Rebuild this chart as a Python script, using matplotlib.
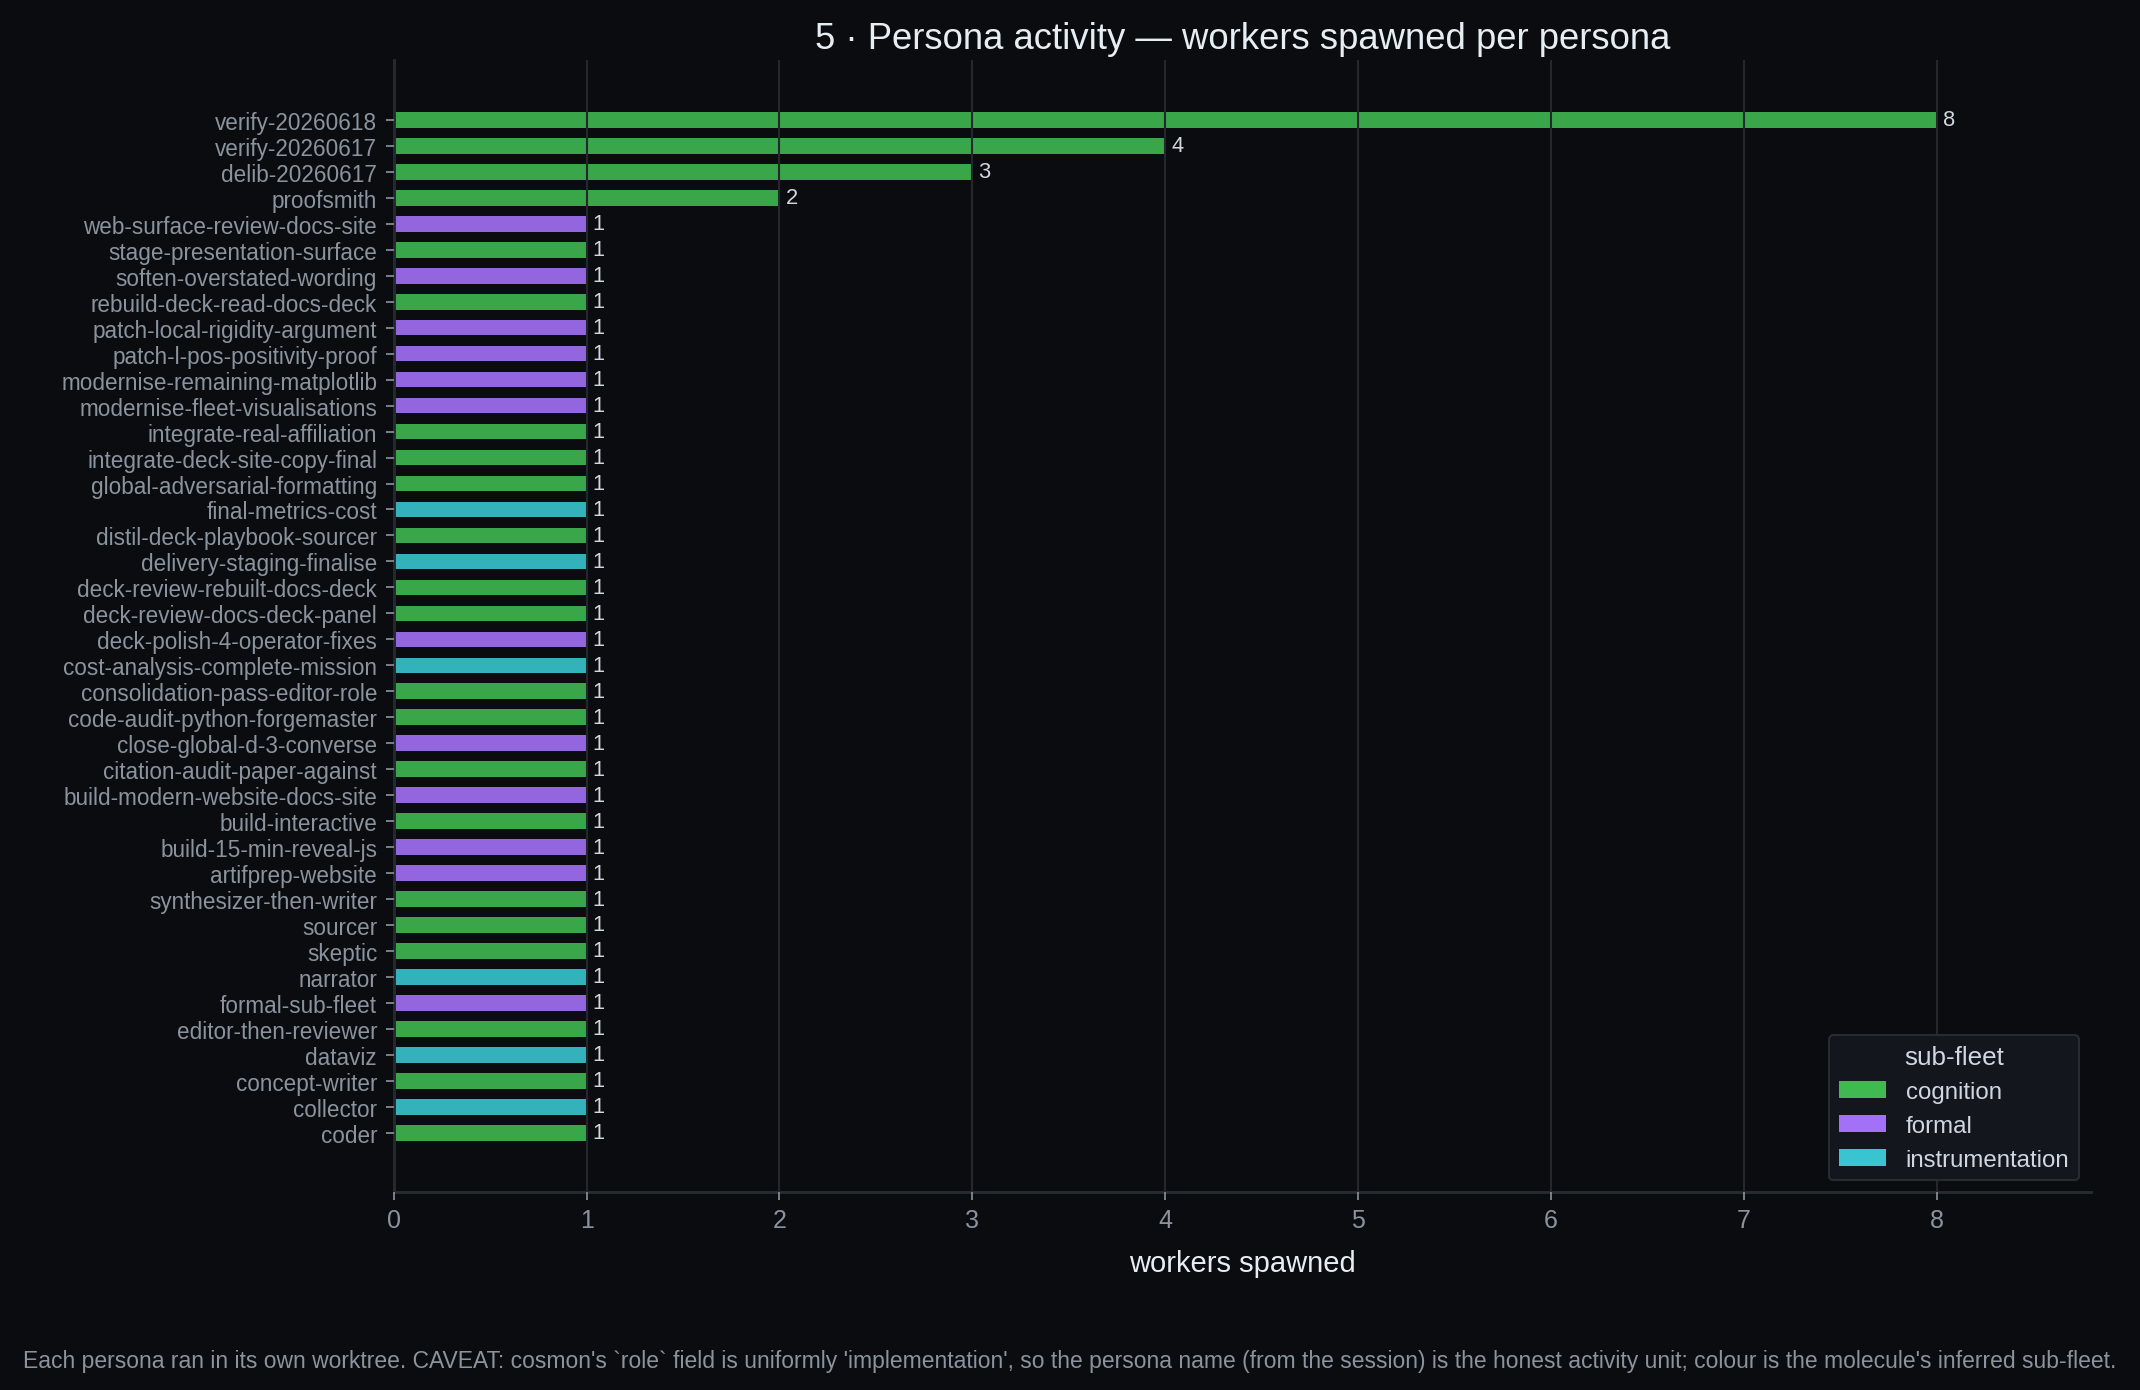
import matplotlib.pyplot as plt
from matplotlib.patches import Patch

plt.rcParams['font.family'] = ['Liberation Sans', 'DejaVu Sans']

# Persona names, top to bottom
personas = [
    "verify-20260618", "verify-20260617", "delib-20260617", "proofsmith",
    "web-surface-review-docs-site", "stage-presentation-surface",
    "soften-overstated-wording", "rebuild-deck-read-docs-deck",
    "patch-local-rigidity-argument", "patch-l-pos-positivity-proof",
    "modernise-remaining-matplotlib", "modernise-fleet-visualisations",
    "integrate-real-affiliation", "integrate-deck-site-copy-final",
    "global-adversarial-formatting", "final-metrics-cost",
    "distil-deck-playbook-sourcer", "delivery-staging-finalise",
    "deck-review-rebuilt-docs-deck", "deck-review-docs-deck-panel",
    "deck-polish-4-operator-fixes", "cost-analysis-complete-mission",
    "consolidation-pass-editor-role", "code-audit-python-forgemaster",
    "close-global-d-3-converse", "citation-audit-paper-against",
    "build-modern-website-docs-site", "build-interactive",
    "build-15-min-reveal-js", "artifprep-website", "synthesizer-then-writer",
    "sourcer", "skeptic", "narrator", "formal-sub-fleet",
    "editor-then-reviewer", "dataviz", "concept-writer", "collector", "coder",
]
workers = [8, 4, 3, 2] + [1] * 36
fleets = [
    "cognition", "cognition", "cognition", "cognition",
    "formal", "cognition", "formal", "cognition",
    "formal", "formal", "formal", "formal",
    "cognition", "cognition", "cognition", "instrumentation",
    "cognition", "instrumentation", "cognition", "cognition",
    "formal", "instrumentation", "cognition", "cognition",
    "formal", "cognition", "formal", "cognition",
    "formal", "formal", "cognition", "cognition",
    "cognition", "instrumentation", "formal", "cognition",
    "instrumentation", "cognition", "instrumentation", "cognition",
]
fleet_colours = {
    "cognition": "#3fb950",
    "formal": "#a371f7",
    "instrumentation": "#39c5cf",
}

BG = "#0a0c10"
fig, ax = plt.subplots(figsize=(14.2667, 9.2733), dpi=150)
fig.patch.set_facecolor(BG)
ax.set_facecolor(BG)
fig.subplots_adjust(left=0.184, right=0.977, top=0.956, bottom=0.142)

ypos = list(range(len(personas)))
bars = ax.barh(ypos, workers, height=0.6,
               color=[fleet_colours[f] for f in fleets], alpha=0.9, zorder=1)
ax.bar_label(bars, labels=[str(w) for w in workers], padding=3,
             color="#d0d7de", fontsize=10.5)

ax.set_yticks(ypos)
ax.set_yticklabels(personas)
ax.set_ylim(len(personas) - 1 + 2.3, -2.3)
ax.set_xlim(0, max(workers) * 1.1)

# grid is drawn over the bars in the reference
ax.set_axisbelow(False)
ax.grid(axis="x", color="#23282f", linewidth=1)
ax.grid(axis="y", visible=False)

for side in ["top", "right"]:
    ax.spines[side].set_visible(False)
for side in ["left", "bottom"]:
    ax.spines[side].set_color("#272c33")
    ax.spines[side].set_linewidth(1.4)

ax.tick_params(axis="y", colors="#8b949e", labelsize=10.8, length=4, pad=4)
ax.tick_params(axis="x", colors="#8b949e", labelsize=12, length=4)
for lbl in ax.get_yticklabels() + ax.get_xticklabels():
    lbl.set_color("#8b949e")

ax.set_xlabel("workers spawned", color="#e6edf3", fontsize=14, labelpad=8)
ax.set_title("5 · Persona activity — workers spawned per persona",
             color="#e6edf3", fontsize=17.5, pad=6)

handles = [Patch(facecolor=c, label=name) for name, c in fleet_colours.items()]
leg = ax.legend(handles=handles, title="sub-fleet", loc="lower right",
                facecolor="#13171d", edgecolor="#272c33", fontsize=11.5,
                title_fontsize=12.5, framealpha=1)
for t in leg.get_texts():
    t.set_color("#d0d7de")
leg.get_title().set_color("#d0d7de")

fig.text(0.5, 0.021,
         "Each persona ran in its own worktree. CAVEAT: cosmon's `role` field is uniformly "
         "'implementation', so the persona name (from the session) is the honest activity "
         "unit; colour is the molecule's inferred sub-fleet.",
         ha="center", va="center", color="#8b949e", fontsize=11)

fig.savefig("out.png", facecolor=BG)
